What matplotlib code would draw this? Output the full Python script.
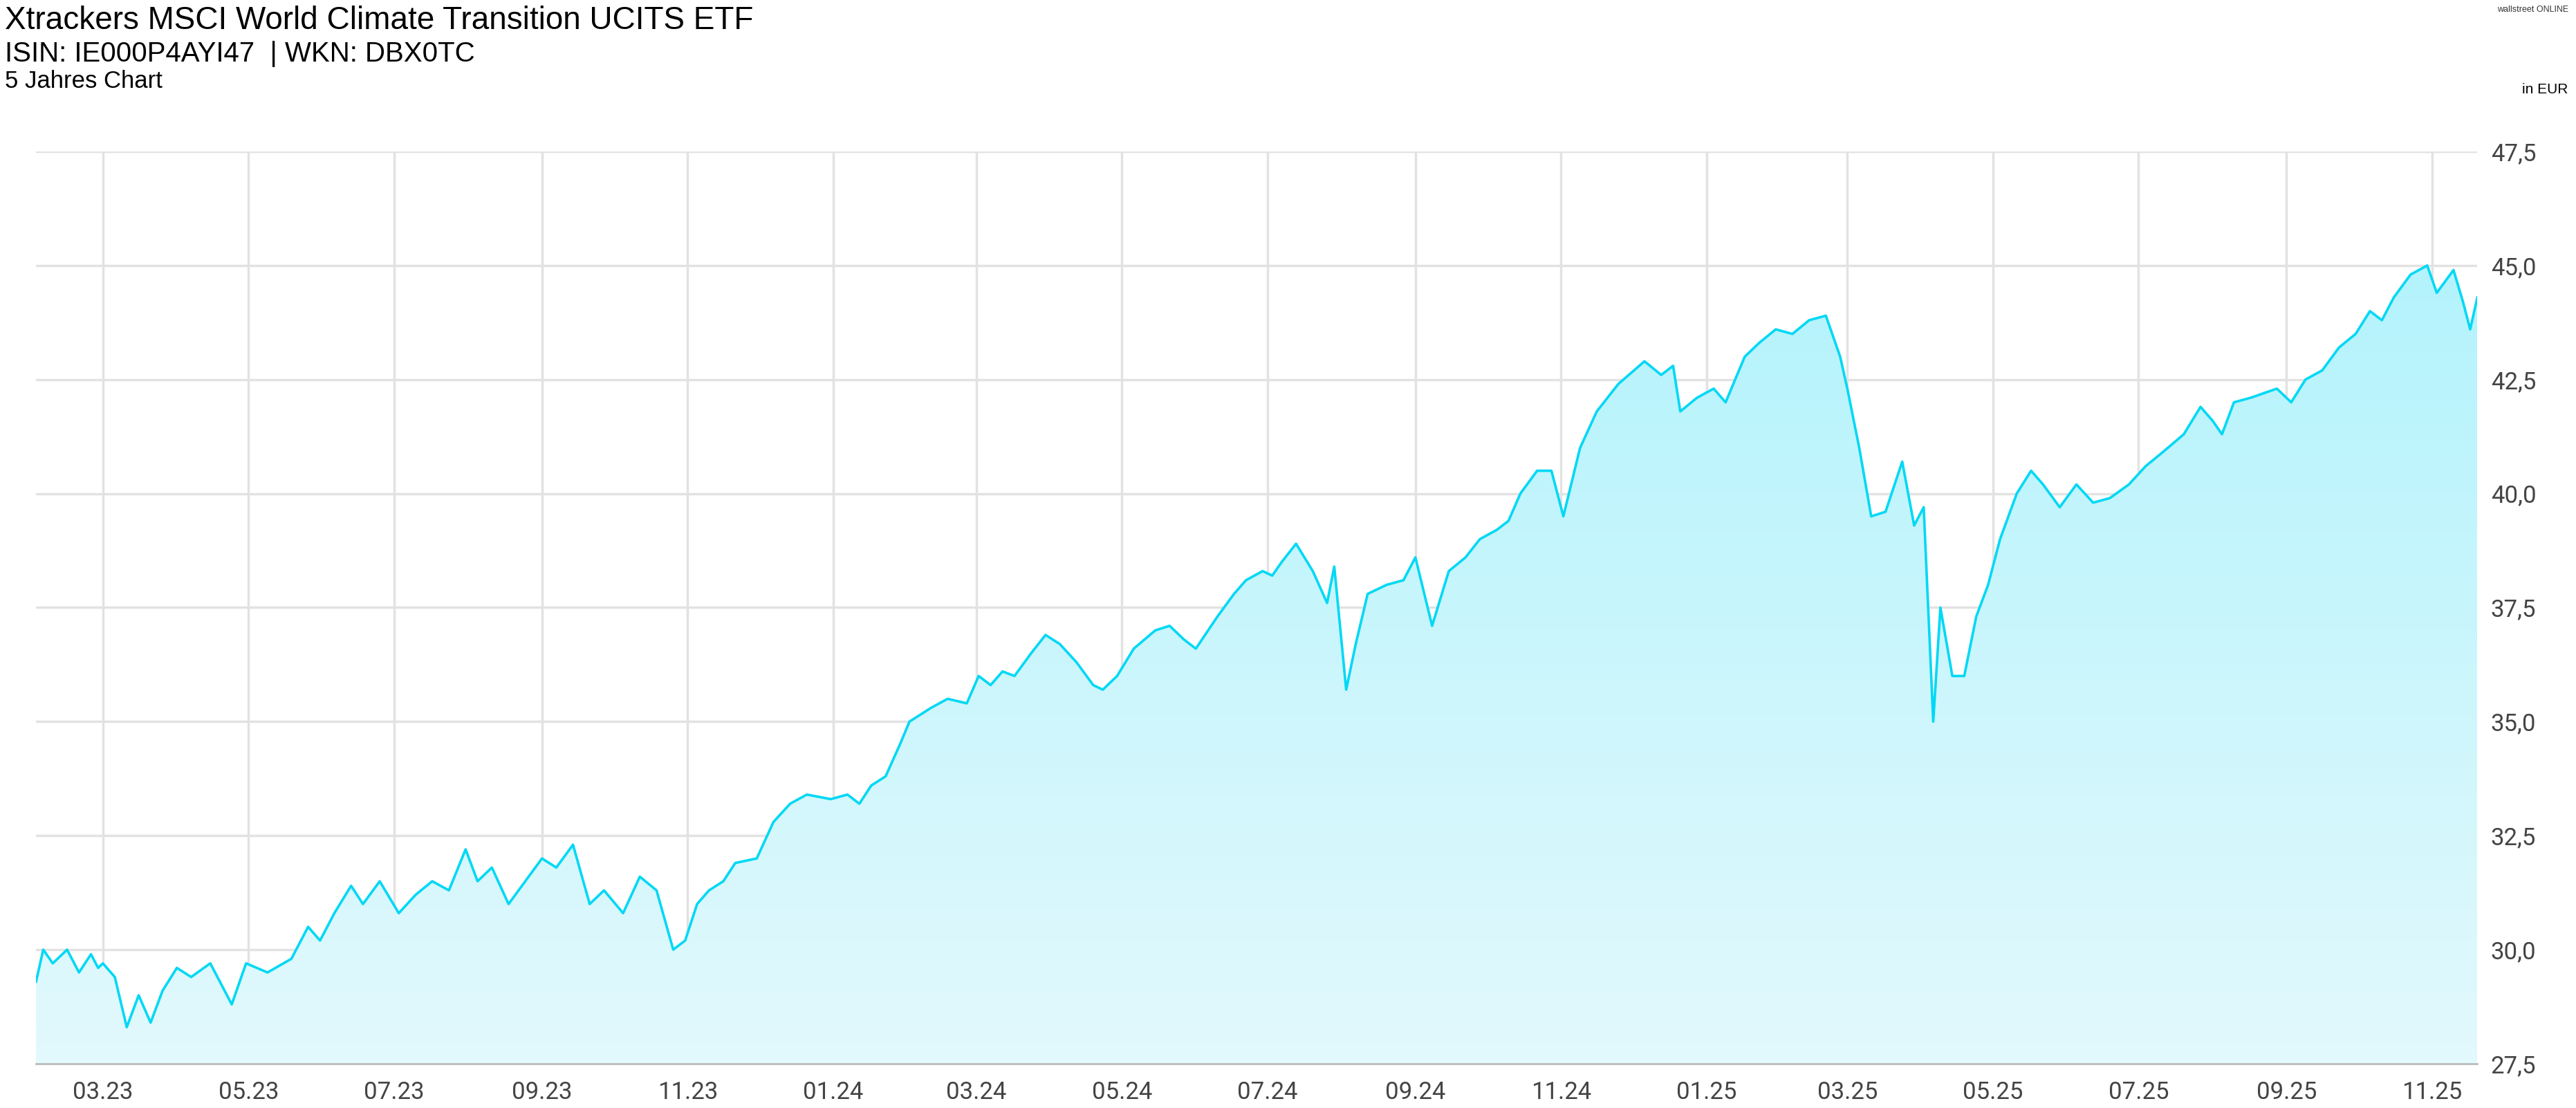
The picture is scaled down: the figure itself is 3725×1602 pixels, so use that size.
import matplotlib
matplotlib.use("Agg")
import matplotlib.pyplot as plt
import matplotlib.dates as mdates
import numpy as np
import pandas as pd
from matplotlib.ticker import FixedLocator, FuncFormatter
from matplotlib.colors import LinearSegmentedColormap

dates = ["2023-02-01","2023-02-04","2023-02-08","2023-02-14","2023-02-19","2023-02-24","2023-02-27",
 "2023-03-01","2023-03-06","2023-03-11","2023-03-16","2023-03-21","2023-03-26",
 "2023-04-01","2023-04-07","2023-04-15","2023-04-24","2023-04-30","2023-05-09","2023-05-19","2023-05-26",
 "2023-05-31","2023-06-06","2023-06-13","2023-06-18","2023-06-25","2023-07-03","2023-07-10","2023-07-17","2023-07-24",
 "2023-07-31","2023-08-05","2023-08-11","2023-08-18","2023-08-25","2023-09-01","2023-09-07","2023-09-14","2023-09-21","2023-09-27",
 "2023-10-05","2023-10-12","2023-10-19","2023-10-26","2023-10-31","2023-11-05","2023-11-10","2023-11-16","2023-11-21",
 "2023-11-30","2023-12-07","2023-12-14","2023-12-21","2023-12-31","2024-01-07","2024-01-12","2024-01-17","2024-01-23",
 "2024-01-29","2024-02-02","2024-02-11","2024-02-18","2024-02-26","2024-03-02","2024-03-07","2024-03-12","2024-03-17","2024-03-24",
 "2024-03-30","2024-04-05","2024-04-12","2024-04-19","2024-04-23","2024-04-29","2024-05-06","2024-05-15","2024-05-21",
 "2024-05-27","2024-06-01","2024-06-10","2024-06-17","2024-06-22","2024-06-29","2024-07-03","2024-07-07","2024-07-13","2024-07-20","2024-07-26",
 "2024-07-29","2024-08-03","2024-08-07","2024-08-12","2024-08-20","2024-08-27","2024-09-01","2024-09-08","2024-09-15",
 "2024-09-22","2024-09-28","2024-10-05","2024-10-10","2024-10-15","2024-10-22","2024-10-28","2024-11-02","2024-11-09","2024-11-16",
 "2024-11-25","2024-12-06","2024-12-13","2024-12-18","2024-12-21","2024-12-28","2025-01-04","2025-01-09","2025-01-17","2025-01-23",
 "2025-01-30","2025-02-06","2025-02-13","2025-02-20","2025-02-26","2025-03-01","2025-03-06","2025-03-11","2025-03-17","2025-03-24",
 "2025-03-29","2025-04-02","2025-04-06","2025-04-09","2025-04-14","2025-04-19","2025-04-24","2025-04-29","2025-05-04","2025-05-11","2025-05-17",
 "2025-05-22","2025-05-29","2025-06-05","2025-06-12","2025-06-19","2025-06-27","2025-07-04","2025-07-11","2025-07-20","2025-07-27",
 "2025-08-01","2025-08-05","2025-08-10","2025-08-17","2025-08-28","2025-09-03","2025-09-09","2025-09-16","2025-09-23",
 "2025-09-30","2025-10-06","2025-10-11","2025-10-16","2025-10-23","2025-10-30","2025-11-03","2025-11-10","2025-11-14","2025-11-17","2025-11-20"]
values = [29.3,30.0,29.7,30.0,29.5,29.9,29.6,
 29.7,29.4,28.3,29.0,28.4,29.1,
 29.6,29.4,29.7,28.8,29.7,29.5,29.8,30.5,
 30.2,30.8,31.4,31.0,31.5,30.8,31.2,31.5,31.3,
 32.2,31.5,31.8,31.0,31.5,32.0,31.8,32.3,31.0,31.3,
 30.8,31.6,31.3,30.0,30.2,31.0,31.3,31.5,31.9,
 32.0,32.8,33.2,33.4,33.3,33.4,33.2,33.6,33.8,
 34.5,35.0,35.3,35.5,35.4,36.0,35.8,36.1,36.0,36.5,
 36.9,36.7,36.3,35.8,35.7,36.0,36.6,37.0,37.1,
 36.8,36.6,37.3,37.8,38.1,38.3,38.2,38.5,38.9,38.3,37.6,
 38.4,35.7,36.7,37.8,38.0,38.1,38.6,37.1,38.3,
 38.6,39.0,39.2,39.4,40.0,40.5,40.5,39.5,41.0,41.8,
 42.4,42.9,42.6,42.8,41.8,42.1,42.3,42.0,43.0,43.3,
 43.6,43.5,43.8,43.9,43.0,42.3,41.0,39.5,39.6,40.7,
 39.3,39.7,35.0,37.5,36.0,36.0,37.3,38.0,39.0,40.0,40.5,
 40.2,39.7,40.2,39.8,39.9,40.2,40.6,40.9,41.3,41.9,
 41.6,41.3,42.0,42.1,42.3,42.0,42.5,42.7,43.2,
 43.5,44.0,43.8,44.3,44.8,45.0,44.4,44.9,44.2,43.6,44.3]
x = pd.to_datetime(dates); y = np.array(values)

yticks = [27.5,30.0,32.5,35.0,37.5,40.0,42.5,45.0,47.5]
xtick_labels = ["03.23","05.23","07.23","09.23","11.23","01.24","03.24","05.24","07.24",
                "09.24","11.24","01.25","03.25","05.25","07.25","09.25","11.25"]
xtick_dates = pd.to_datetime(["20"+l[3:]+"-"+l[:2]+"-01" for l in xtick_labels])

fig = plt.figure(figsize=(37.25,16.02), dpi=100)
ax = fig.add_axes([0.014,0.040,0.9477,0.8233])
line_c = "#00D8F5"
xn = mdates.date2num(x)
ax.set_xlim(xn[0], xn[-1]); ax.set_ylim(27.5,47.5)
grad = np.linspace(0,1,256).reshape(-1,1)
cmap = LinearSegmentedColormap.from_list("g", ["#E2F9FD","#B4F3FC"])
im = ax.imshow(grad, cmap=cmap, aspect="auto", origin="lower",
               extent=[xn[0], xn[-1], 27.5, max(y)], zorder=1)
poly = ax.fill_between(xn, y, 27.5, color="none")
im.set_clip_path(poly.get_paths()[0], transform=ax.transData)
ax.plot(xn, y, color=line_c, lw=2.6, zorder=3)

ax.yaxis.tick_right()
ax.yaxis.set_major_locator(FixedLocator(yticks))
ax.yaxis.set_major_formatter(FuncFormatter(lambda v,p: f"{v:.1f}".replace(".",",")))
ax.set_xticks(mdates.date2num(xtick_dates)); ax.set_xticklabels(xtick_labels)
ax.tick_params(axis="both", labelsize=25, colors="#444444", length=0, pad=14)
ax.tick_params(axis="x", pad=18)
for lab in ax.get_xticklabels()+ax.get_yticklabels():
    lab.set_family("Roboto")
ax.grid(True, color="#E2E2E2", lw=2.5, zorder=0)
ax.set_axisbelow(True)
for s in ["top","left","right"]: ax.spines[s].set_visible(False)
ax.spines["bottom"].set_color("#BBBBBB"); ax.spines["bottom"].set_linewidth(2)

ff = "Liberation Sans"
fig.text(0.002,0.995,"Xtrackers MSCI World Climate Transition UCITS ETF", fontsize=33, va="top", family=ff)
fig.text(0.002,0.963,"ISIN: IE000P4AYI47  | WKN: DBX0TC", fontsize=29, va="top", family=ff)
fig.text(0.002,0.937,"5 Jahres Chart", fontsize=25, va="top", family=ff)
fig.text(0.997,0.925,"in EUR", fontsize=15, ha="right", va="top", family=ff)
fig.text(0.997,0.995,"wallstreet ONLINE", fontsize=9, ha="right", va="top", color="#333", family=ff)
fig.savefig("out.png", dpi=100)
